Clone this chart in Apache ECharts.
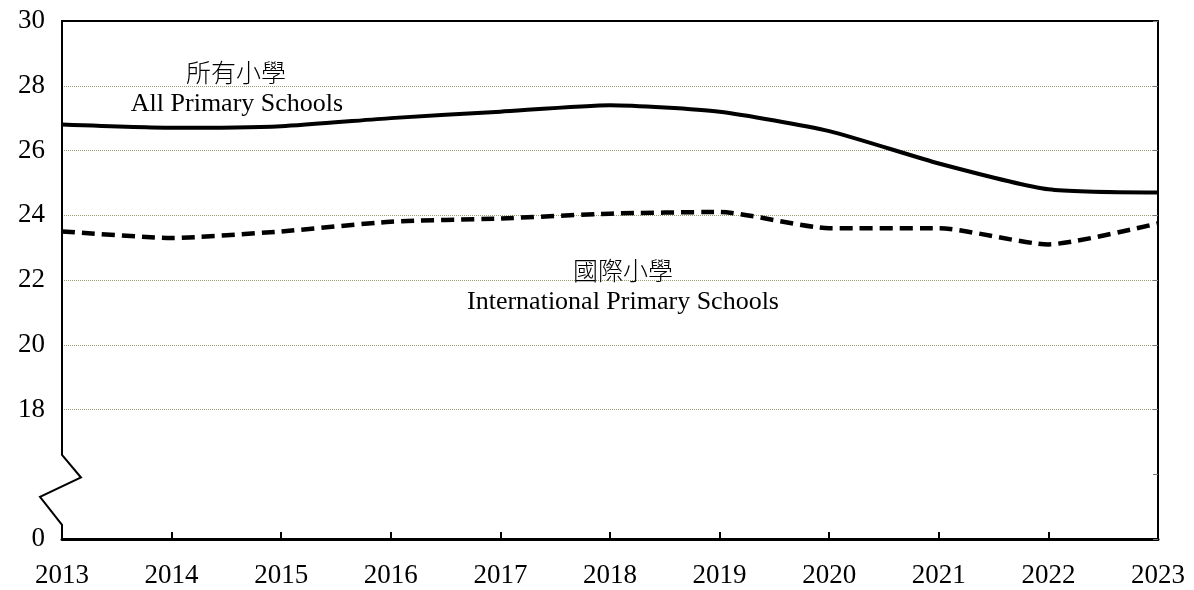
<!DOCTYPE html>
<html><head><meta charset="utf-8">
<script src="https://cdn.jsdelivr.net/npm/echarts@6/dist/echarts.min.js"></script>
<style>html,body{margin:0;padding:0;background:#fff}#c{width:1194px;height:590px}</style>
</head><body><div id="c"></div>
<script>
const years = ['2013','2014','2015','2016','2017','2018','2019','2020','2021','2022','2023'];
const allPrimary = [26.8, 26.7, 26.75, 27.0, 27.2, 27.4, 27.2, 26.6, 25.6, 24.8, 24.7];
const intlPrimary = [23.5, 23.3, 23.5, 23.8, 23.9, 24.05, 24.1, 23.6, 23.6, 23.1, 23.75];
const yTickLabels = {14: '0', 16: '', 18: '18', 20: '20', 22: '22', 24: '24', 26: '26', 28: '28', 30: '30'};
const seriesNames = ['所有小學\nAll Primary Schools', '國際小學\nInternational Primary Schools'];

const serif = '"Liberation Serif", "Times New Roman", serif';
const cjk = '"Noto Sans CJK TC", "Noto Sans CJK SC", sans-serif';
const gridCol = '#9a9a82';

const chart = echarts.init(document.getElementById('c'), null, {renderer: 'canvas'});
const option = {
  backgroundColor: '#fff',
  animation: false,
  grid: {left: 62, right: 36, top: 21, bottom: 51, containLabel: false},
  xAxis: [{
    type: 'category', data: years, boundaryGap: false, position: 'bottom',
    axisLine: {show: true, lineStyle: {color: '#000', width: 3}},
    axisTick: {show: true, inside: true, length: 7, lineStyle: {color: '#000', width: 2}},
    axisLabel: {color: '#000', fontFamily: serif, fontSize: 27, margin: 23},
    splitLine: {show: false}
  }, {
    type: 'category', data: years, boundaryGap: false, position: 'top',
    axisLine: {show: true, lineStyle: {color: '#000', width: 2}},
    axisTick: {show: false}, axisLabel: {show: false}, splitLine: {show: false}
  }],
  yAxis: [{
    type: 'value', min: 14, max: 30, interval: 2, position: 'left',
    axisLine: {show: false},
    axisTick: {show: false},
    axisLabel: {color: '#000', fontFamily: serif, fontSize: 27, margin: 17, padding: [4, 0, 0, 0],
      formatter: v => (yTickLabels[v] !== undefined ? yTickLabels[v] : String(v))},
    splitLine: {show: true, lineStyle: {type: 'dotted', width: 1,
      color: ['rgba(0,0,0,0)', 'rgba(0,0,0,0)', gridCol, gridCol, gridCol, gridCol, gridCol, gridCol, 'rgba(0,0,0,0)']}}
  }, {
    type: 'value', min: 14, max: 30, interval: 2, position: 'right',
    axisLine: {show: true, lineStyle: {color: '#000', width: 2}},
    axisTick: {show: true, inside: true, length: 5, lineStyle: {color: '#777', width: 1}},
    axisLabel: {show: false}, splitLine: {show: false}
  }],
  series: [{
    name: seriesNames[0], type: 'line', data: allPrimary, smooth: 0.2,
    symbol: 'none', lineStyle: {color: '#000', width: 4}, z: 3
  }, {
    name: seriesNames[1], type: 'line', data: intlPrimary, smooth: 0.2,
    symbol: 'none', lineStyle: {color: '#000', width: 4.5, type: [13, 7]}, z: 3
  }]
};
chart.setOption(option);

// axis break on the left axis, positions from the axis scale
function px(v) { return chart.convertToPixel({gridIndex: 0}, [0, v]); }
const p30 = px(30), pTop = px(16.6), pA = px(15.9), pB = px(15.3), pC = px(14.44), p14 = px(14);
const x0 = p30[0];
chart.setOption({
  graphic: [
    {type: 'polyline', shape: {points: [[x0, p30[1] - 1], [x0, pTop[1]], [x0 + 19, pA[1]], [x0 - 22, pB[1]], [x0, pC[1]], [x0, p14[1] + 1]]},
     style: {stroke: '#000', lineWidth: 2, fill: null}, z: 10},
    {type: 'text', x: 236, y: 72, style: {text: '所有小學', font: '300 25px ' + cjk, fill: '#000', textAlign: 'center', textVerticalAlign: 'middle'}, z: 10},
    {type: 'text', x: 237, y: 104, style: {text: 'All Primary Schools', font: '26px ' + serif, fill: '#000', textAlign: 'center', textVerticalAlign: 'middle'}, z: 10},
    {type: 'text', x: 623, y: 270, style: {text: '國際小學', font: '300 25px ' + cjk, fill: '#000', textAlign: 'center', textVerticalAlign: 'middle'}, z: 10},
    {type: 'text', x: 623, y: 302, style: {text: 'International Primary Schools', font: '26px ' + serif, fill: '#000', textAlign: 'center', textVerticalAlign: 'middle'}, z: 10}
  ]
});
</script>
</body></html>
